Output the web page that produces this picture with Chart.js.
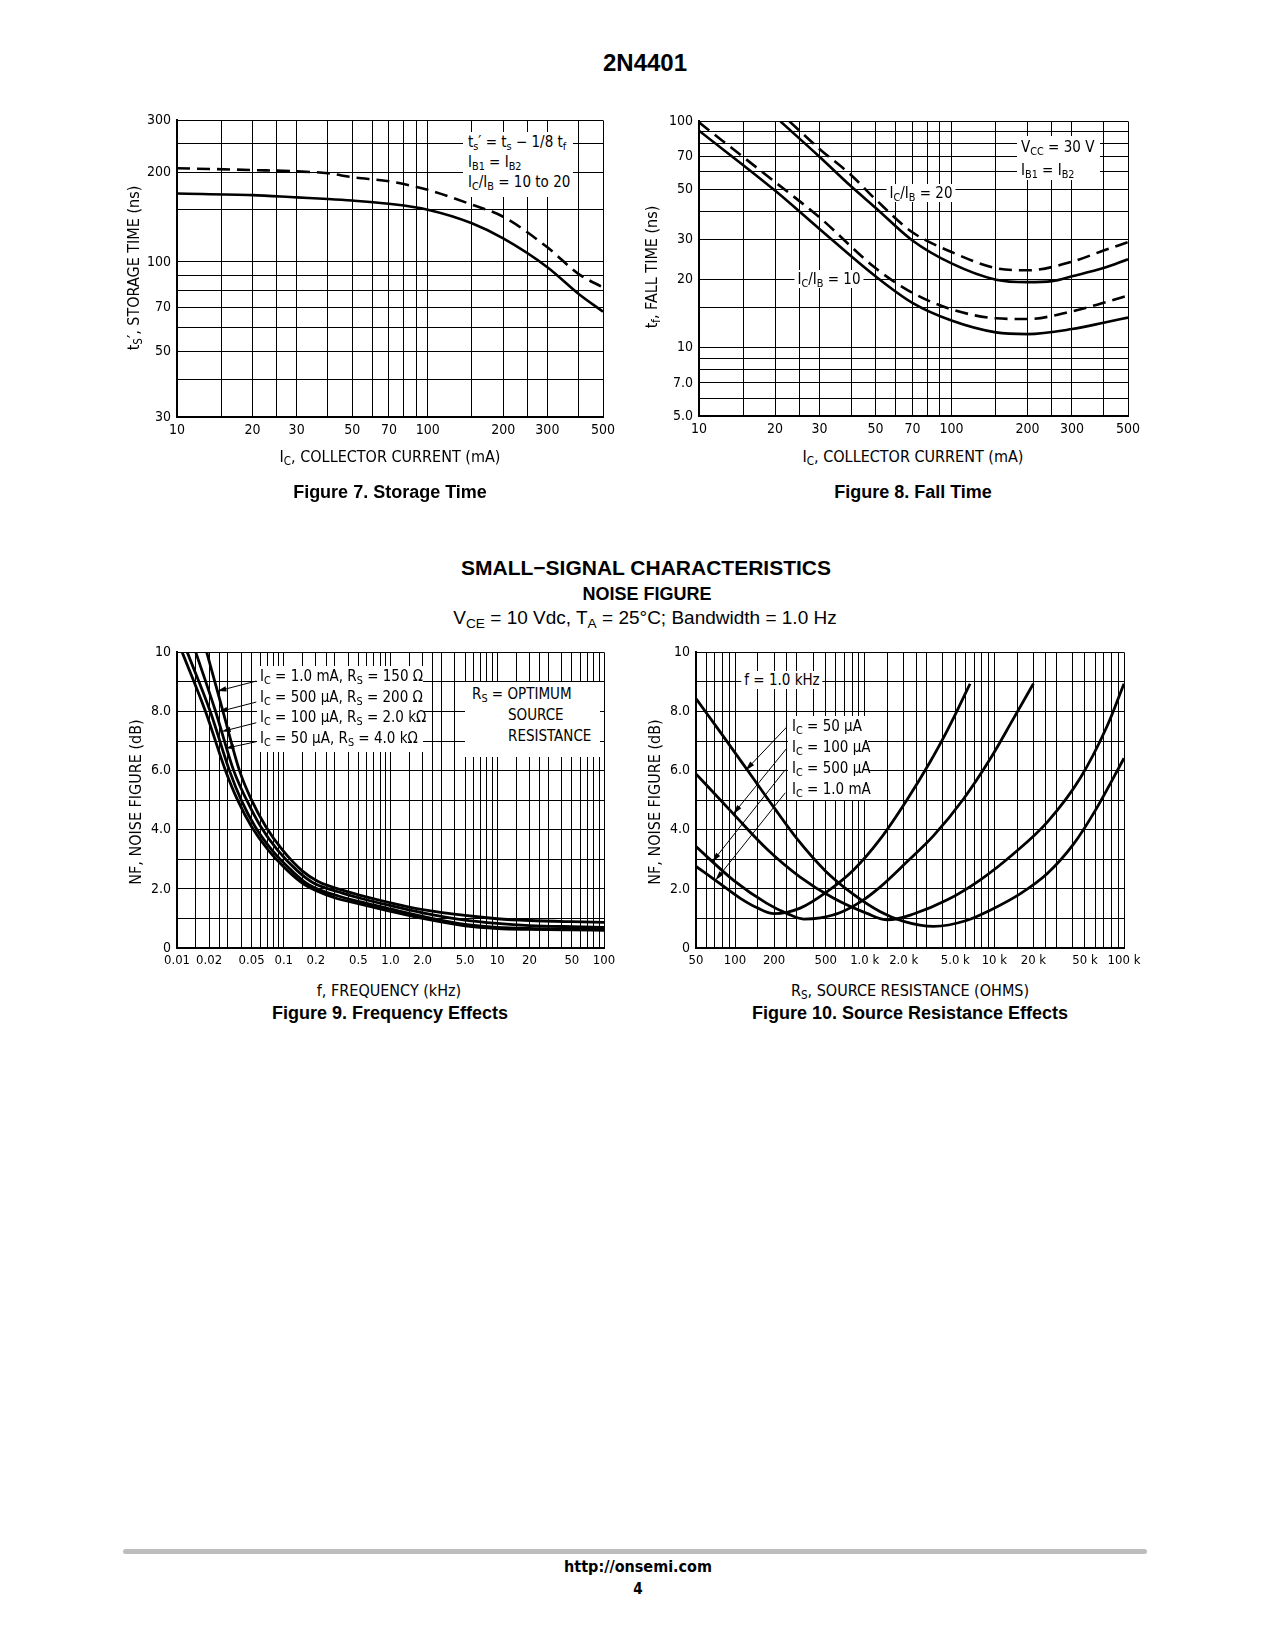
<!DOCTYPE html>
<html><head><meta charset="utf-8">
<script src="https://cdn.jsdelivr.net/npm/chart.js@4.4.1/dist/chart.umd.min.js"></script>
<style>
html,body{margin:0;padding:0;background:#fff;}
body{width:1275px;height:1650px;position:relative;overflow:hidden;font-family:'Liberation Sans',Arial,sans-serif;color:#000;}
.a{position:absolute;white-space:nowrap;}
.c{transform:translate(-50%,-50%);}
.r{transform:translate(-50%,-50%) rotate(-90deg);}
.n{font-family:'Liberation Sans Narrow','Arial Narrow','DejaVu Sans Condensed','Liberation Sans',sans-serif;}
.b{font-weight:bold;}
canvas{position:absolute;}
sub{font-size:72%;vertical-align:-0.28em;line-height:0;}
.box{background:#fff;}
.cap{font-weight:bold;font-size:18px;}
.tt{font-size:16px;}
.an{font-size:15px;}
</style></head><body>

<div class="a c b" style="left:645px;top:63px;font-size:24px">2N4401</div>

<canvas id="f7" width="501" height="341" style="left:127px;top:106px"></canvas>
<canvas id="f8" width="504" height="339" style="left:649px;top:107px"></canvas>
<canvas id="f9" width="502" height="340" style="left:127px;top:638px"></canvas>
<canvas id="f10" width="503" height="340" style="left:646px;top:638px"></canvas>

<!-- Figure 7 texts -->
<div class="a r n tt" style="left:133px;top:268px">t<sub>S</sub>′, STORAGE TIME (ns)</div>
<div class="a c n tt" style="left:390px;top:456px">I<sub>C</sub>, COLLECTOR CURRENT (mA)</div>
<div class="a c cap" style="left:390px;top:492px">Figure 7. Storage Time</div>
<div class="a box n an" style="left:463px;top:132px;width:110px;height:65px;line-height:20px;padding-left:5px;box-sizing:border-box">t<sub>s</sub>′ = t<sub>s</sub> − 1/8 t<sub>f</sub><br>I<sub>B1</sub> = I<sub>B2</sub><br>I<sub>C</sub>/I<sub>B</sub> = 10 to 20</div>

<!-- Figure 8 texts -->
<div class="a r n tt" style="left:651px;top:267px">t<sub>f</sub>, FALL TIME (ns)</div>
<div class="a c n tt" style="left:913px;top:456px">I<sub>C</sub>, COLLECTOR CURRENT (mA)</div>
<div class="a c cap" style="left:913px;top:492px">Figure 8. Fall Time</div>
<div class="a box n an" style="left:1017px;top:136px;width:83px;height:44px;line-height:23px;padding-left:4px;box-sizing:border-box">V<sub>CC</sub> = 30 V<br>I<sub>B1</sub> = I<sub>B2</sub></div>
<div class="a c box n an" style="left:921px;top:193px;padding:0 3px">I<sub>C</sub>/I<sub>B</sub> = 20</div>
<div class="a c box n an" style="left:829px;top:279px;padding:0 3px">I<sub>C</sub>/I<sub>B</sub> = 10</div>

<!-- Section titles -->
<div class="a c b" style="left:646px;top:568px;font-size:21px">SMALL−SIGNAL CHARACTERISTICS</div>
<div class="a c b" style="left:647px;top:594px;font-size:18px">NOISE FIGURE</div>
<div class="a c" style="left:645px;top:618px;font-size:19px">V<sub>CE</sub> = 10 Vdc, T<sub>A</sub> = 25°C; Bandwidth = 1.0 Hz</div>

<!-- Figure 9 texts -->
<div class="a r n tt" style="left:135px;top:802px">NF, NOISE FIGURE (dB)</div>
<div class="a c n tt" style="left:389px;top:990px">f, FREQUENCY (kHz)</div>
<div class="a c cap" style="left:390px;top:1013px">Figure 9. Frequency Effects</div>
<div class="a box n an" style="left:257px;top:666px;width:166px;height:86px;line-height:20.7px;padding-left:3px;box-sizing:border-box">I<sub>C</sub> = 1.0 mA, R<sub>S</sub> = 150 Ω<br>I<sub>C</sub> = 500 μA, R<sub>S</sub> = 200 Ω<br>I<sub>C</sub> = 100 μA, R<sub>S</sub> = 2.0 kΩ<br>I<sub>C</sub> = 50 μA, R<sub>S</sub> = 4.0 kΩ</div>
<div class="a box n an" style="left:465px;top:682px;width:135px;height:75px;line-height:21px;padding:2px 0 0 7px;box-sizing:border-box">R<sub>S</sub> = OPTIMUM<br><span style="padding-left:36px">SOURCE</span><br><span style="padding-left:36px">RESISTANCE</span></div>

<!-- Figure 10 texts -->
<div class="a r n tt" style="left:654px;top:802px">NF, NOISE FIGURE (dB)</div>
<div class="a c n tt" style="left:910px;top:990px">R<sub>S</sub>, SOURCE RESISTANCE (OHMS)</div>
<div class="a c cap" style="left:910px;top:1013px">Figure 10. Source Resistance Effects</div>
<div class="a c box n an" style="left:782px;top:680px;padding:0 3px">f = 1.0 kHz</div>
<div class="a box n an" style="left:788px;top:716px;width:80px;height:84px;line-height:21px;padding-left:4px;box-sizing:border-box">I<sub>C</sub> = 50 μA<br>I<sub>C</sub> = 100 μA<br>I<sub>C</sub> = 500 μA<br>I<sub>C</sub> = 1.0 mA</div>

<!-- Footer -->
<div class="a" style="left:123px;top:1549px;width:1024px;height:5px;background:#bdbdbd;border-radius:3px"></div>
<div class="a c b n" style="left:638px;top:1566px;font-size:16px">http://onsemi.com</div>
<div class="a c b n" style="left:638px;top:1589px;font-size:15px">4</div>

<script>
// ---------------- DATA ----------------
// Figure 7: storage time vs collector current
const fig7Current = [10, 20, 30, 40, 50, 70, 100, 150, 200, 300, 400, 500];
const fig7Solid   = [170, 168, 165, 163, 161, 157, 150, 135, 120, 96, 78, 68];
const fig7Dashed  = [207, 204, 202, 199, 193, 187, 175, 156, 142, 112, 91, 82];
const fig7XTicks = [10,15,20,25,30,40,50,60,70,80,90,100,150,200,250,300,400,500];
const fig7XLabels = {10:'10',20:'20',30:'30',50:'50',70:'70',100:'100',200:'200',300:'300',500:'500'};
const fig7YTicks = [30,40,50,60,70,80,90,100,150,200,250,300];
const fig7YLabels = {30:'30',50:'50',70:'70',100:'100',200:'200',300:'300'};

// Figure 8: fall time vs collector current
const fig8Current10  = [10, 20, 30, 50, 70, 100, 150, 200, 300, 400, 500];
const fig8Solid10    = [91, 49.5, 33.5, 20.7, 15.8, 13.2, 11.7, 11.5, 12.1, 12.9, 13.6];
const fig8Dashed10   = [99, 54, 37.7, 22.5, 17.5, 14.8, 13.5, 13.4, 14.5, 15.8, 17];
const fig8CurrentS20 = [21, 30, 40, 50, 70, 100, 150, 200, 250, 300, 400, 500];
const fig8Solid20    = [100, 69.8, 51.7, 41.6, 29.8, 23.6, 20, 19.5, 19.7, 20.7, 22.5, 24.6];
const fig8CurrentD20 = [22.8, 30, 40, 50, 70, 100, 150, 200, 300, 400, 500];
const fig8Dashed20   = [100, 75.6, 58, 45.3, 32.4, 26.5, 22.5, 22, 24, 26.9, 29.3];
const fig8XTicks = fig7XTicks;
const fig8XLabels = fig7XLabels;
const fig8YTicks = [5,6,7,8,9,10,15,20,30,40,50,60,70,80,90,100];
const fig8YLabels = {5:'5.0',7:'7.0',10:'10',20:'20',30:'30',50:'50',70:'70',100:'100'};

// Figure 9: noise figure vs frequency
const fig9FreqA = [0.019, 0.027, 0.0385, 0.05, 0.068, 0.098, 0.15, 0.21, 0.4, 0.5, 1, 2, 5, 10, 20, 50, 100];
const fig9NF_A  = [10, 8, 6, 5.0, 4.1, 3.3, 2.6, 2.25, 1.9, 1.8, 1.53, 1.3, 1.1, 0.99, 0.93, 0.89, 0.87];
const fig9FreqB = [0.015, 0.023, 0.034, 0.045, 0.061, 0.088, 0.135, 0.19, 0.36, 0.5, 1, 2, 5, 10, 20, 50, 100];
const fig9NF_B  = [10, 8, 6, 5.0, 4.1, 3.3, 2.6, 2.2, 1.85, 1.7, 1.43, 1.19, 0.94, 0.83, 0.76, 0.72, 0.7];
const fig9FreqC = [0.0125, 0.0205, 0.031, 0.04, 0.054, 0.078, 0.12, 0.17, 0.33, 0.5, 1, 2, 5, 10, 20, 50, 100];
const fig9NF_C  = [10, 8, 6, 5.0, 4.1, 3.3, 2.6, 2.15, 1.75, 1.58, 1.32, 1.07, 0.8, 0.7, 0.66, 0.64, 0.63];
const fig9FreqD = [0.0112, 0.0185, 0.0285, 0.037, 0.05, 0.072, 0.11, 0.156, 0.3, 0.5, 1, 2, 5, 10, 20, 50, 100];
const fig9NF_D  = [10, 8, 6, 5.0, 4.1, 3.3, 2.6, 2.15, 1.7, 1.5, 1.24, 1.0, 0.75, 0.66, 0.63, 0.61, 0.6];
const fig9Mantissas = [1,1.5,2,2.5,3,4,5,6,7,8,9];
const fig9Decades = [0.01, 0.1, 1, 10];
const fig9XLabels = {0.01:'0.01',0.02:'0.02',0.05:'0.05',0.1:'0.1',0.2:'0.2',0.5:'0.5',1:'1.0',2:'2.0',5:'5.0',10:'10',20:'20',50:'50',100:'100'};
const nfYLabels = {0:'0',2:'2.0',4:'4.0',6:'6.0',8:'8.0',10:'10'};
const fig9ArrowTail = [[0.0553,9.03],[0.0553,8.32],[0.0553,7.62],[0.0553,6.98]];
const fig9ArrowTip  = [[0.0239,8.69],[0.0245,7.99],[0.0262,7.32],[0.0283,6.75]];

// Figure 10: noise figure vs source resistance
const fig10R_50uA  = [50, 80, 124, 200, 300, 500, 800, 1320, 2000, 3400, 6100, 9300, 15900, 25500, 40900, 61900, 100000];
const fig10NF_50uA = [8.44, 7.2, 6.03, 4.75, 3.7, 2.6, 1.85, 1.23, 0.9, 0.73, 0.93, 1.28, 1.84, 2.51, 3.52, 4.75, 6.42];
const fig10R_100uA  = [50, 97.5, 176, 318, 577, 1040, 1500, 2380, 4300, 7700, 14000, 25500, 46000, 74000, 100000];
const fig10NF_100uA = [5.89, 4.53, 3.35, 2.4, 1.68, 1.17, 0.95, 1.15, 1.62, 2.29, 3.18, 4.25, 5.75, 7.5, 8.94];
const fig10R_500uA  = [50, 97.5, 176, 251, 338, 455, 650, 920, 1320, 2100, 3400, 5800, 9300, 14000, 20000];
const fig10NF_500uA = [3.43, 2.29, 1.51, 1.17, 0.98, 1.02, 1.2, 1.55, 2.07, 2.9, 3.8, 5.05, 6.4, 7.75, 8.94];
const fig10R_1mA  = [50, 77, 110, 148, 200, 318, 510, 820, 1320, 2110, 3200, 4300, 5100, 6500];
const fig10NF_1mA = [2.76, 2.17, 1.68, 1.36, 1.16, 1.35, 1.9, 2.64, 3.69, 5.0, 6.3, 7.33, 7.98, 8.94];
const fig10Mantissas = [1,1.5,2,2.5,3,4,5,6,7,8,9];
const fig10Decades = [10, 100, 1000, 10000];
const fig10XLabels = {50:'50',100:'100',200:'200',500:'500',1000:'1.0 k',2000:'2.0 k',5000:'5.0 k',10000:'10 k',20000:'20 k',50000:'50 k',100000:'100 k'};
const fig10ArrowTail = [[251,7.48],[251,6.76],[244,6.03],[244,5.25]];
const fig10ArrowTip  = [[120,6.0],[96.4,4.52],[66.4,2.9],[70.4,2.28]];

// --------------- HELPERS ---------------
const NARROW = "'Liberation Sans Narrow','Arial Narrow','DejaVu Sans Condensed','Liberation Sans',sans-serif";
const pts = (xs, ys) => xs.map((v, i) => ({x: v, y: ys[i]}));
const key = v => String(+v.toPrecision(6));
function logTicks(decades, mantissas, lo, hi){
  const out = [];
  decades.forEach(d => mantissas.forEach(m => { const v = +(d*m).toPrecision(6); if (v >= lo && v <= hi) out.push(v); }));
  if (!out.includes(hi)) out.push(hi);
  return out;
}
const fig9XTicks = logTicks(fig9Decades, fig9Mantissas, 0.01, 100);
const fig10XTicks = logTicks(fig10Decades, fig10Mantissas, 50, 100000);

const arrowPlugin = {
  id: 'arrows',
  afterDatasetsDraw(chart, args, opts){
    if (!opts || !opts.tails) return;
    const ctx = chart.ctx, xs = chart.scales.x, ys = chart.scales.y;
    ctx.save(); ctx.strokeStyle = '#000'; ctx.fillStyle = '#000'; ctx.lineWidth = 1;
    opts.tails.forEach((t, i) => {
      const h = opts.tips[i];
      const x1 = xs.getPixelForValue(t[0]), y1 = ys.getPixelForValue(t[1]);
      const x2 = xs.getPixelForValue(h[0]), y2 = ys.getPixelForValue(h[1]);
      const a = Math.atan2(y2 - y1, x2 - x1), L = opts.len, W = opts.wid;
      ctx.beginPath(); ctx.moveTo(x1, y1); ctx.lineTo(x2 - L*0.7*Math.cos(a), y2 - L*0.7*Math.sin(a)); ctx.stroke();
      ctx.beginPath(); ctx.moveTo(x2, y2);
      ctx.lineTo(x2 - L*Math.cos(a) + W*Math.sin(a), y2 - L*Math.sin(a) - W*Math.cos(a));
      ctx.lineTo(x2 - L*Math.cos(a) - W*Math.sin(a), y2 - L*Math.sin(a) + W*Math.cos(a));
      ctx.closePath(); ctx.fill();
    });
    ctx.restore();
  }
};

function axis(type, min, max, tickVals, labels, isX, fontSize){
  return {
    type, min, max,
    grid: {color: '#000', lineWidth: 1, drawTicks: false},
    border: {color: '#000', width: 2},
    ticks: {
      autoSkip: false, maxRotation: 0, minRotation: 0, color: '#000',
      padding: isX ? 5 : 6,
      font: {family: NARROW, size: fontSize},
      callback: v => labels[key(v)] !== undefined ? labels[key(v)] : ''
    },
    afterBuildTicks: sc => { sc.ticks = tickVals.map(v => ({value: v})); },
    afterFit: sc => { if (isX) sc.height = 30; else sc.width = 50; }
  };
}

function ds(data, dashed, width){
  return {data, borderColor: '#000', borderWidth: width, borderDash: dashed ? [13, 7] : [],
          pointRadius: 0, fill: false, cubicInterpolationMode: 'monotone', borderCapStyle: 'butt'};
}

function makeChart(id, datasets, xScale, yScale, arrows){
  return new Chart(document.getElementById(id), {
    type: 'line',
    data: {datasets},
    options: {
      responsive: false, animation: false, devicePixelRatio: 1,
      layout: {padding: {top: 12, right: 25, left: 0, bottom: 0}},
      plugins: {legend: {display: false}, tooltip: {enabled: false}, title: {display: false},
                arrows: arrows || {}},
      scales: {x: xScale, y: yScale}
    },
    plugins: [arrowPlugin]
  });
}

// Figure 7
makeChart('f7',
  [ds(pts(fig7Current, fig7Solid), false, 2.6), ds(pts(fig7Current, fig7Dashed), true, 2.6)],
  axis('logarithmic', 10, 500, fig7XTicks, fig7XLabels, true, 14),
  axis('logarithmic', 30, 300, fig7YTicks, fig7YLabels, false, 14));

// Figure 8
makeChart('f8',
  [ds(pts(fig8Current10, fig8Solid10), false, 2.6), ds(pts(fig8Current10, fig8Dashed10), true, 2.6),
   ds(pts(fig8CurrentS20, fig8Solid20), false, 2.6), ds(pts(fig8CurrentD20, fig8Dashed20), true, 2.6)],
  axis('logarithmic', 10, 500, fig8XTicks, fig8XLabels, true, 14),
  axis('logarithmic', 5, 100, fig8YTicks, fig8YLabels, false, 14));

// Figure 9
const nfTicks = [0,1,2,3,4,5,6,7,8,9,10];
makeChart('f9',
  [ds(pts(fig9FreqA, fig9NF_A), false, 2.8), ds(pts(fig9FreqB, fig9NF_B), false, 2.8),
   ds(pts(fig9FreqC, fig9NF_C), false, 2.8), ds(pts(fig9FreqD, fig9NF_D), false, 2.8)],
  axis('logarithmic', 0.01, 100, fig9XTicks, fig9XLabels, true, 13),
  axis('linear', 0, 10, nfTicks, nfYLabels, false, 14),
  {tails: fig9ArrowTail, tips: fig9ArrowTip, len: 9, wid: 2.6});

// Figure 10
makeChart('f10',
  [ds(pts(fig10R_50uA, fig10NF_50uA), false, 2.8), ds(pts(fig10R_100uA, fig10NF_100uA), false, 2.8),
   ds(pts(fig10R_500uA, fig10NF_500uA), false, 2.8), ds(pts(fig10R_1mA, fig10NF_1mA), false, 2.8)],
  axis('logarithmic', 50, 100000, fig10XTicks, fig10XLabels, true, 13),
  axis('linear', 0, 10, nfTicks, nfYLabels, false, 14),
  {tails: fig10ArrowTail, tips: fig10ArrowTip, len: 10, wid: 2.6});
</script>
</body></html>
